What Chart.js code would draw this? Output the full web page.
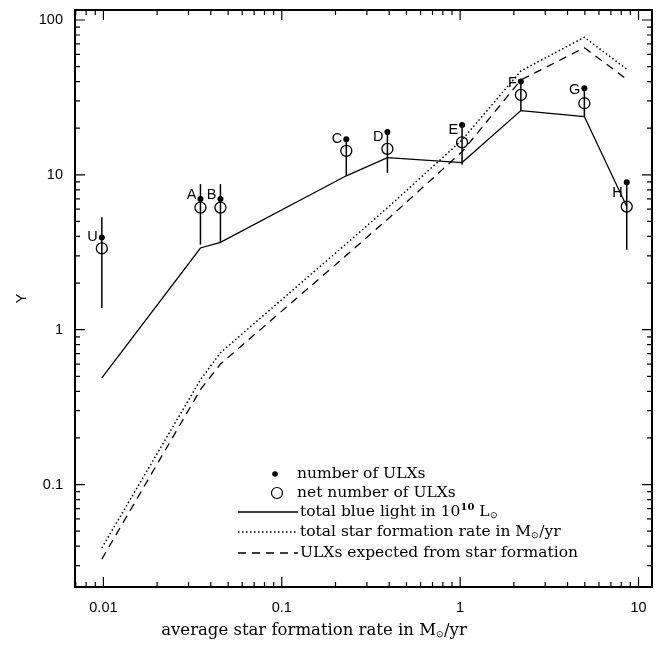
<!DOCTYPE html>
<html lang="en">
<head>
  <meta charset="UTF-8" />
  <title>ULXs vs star formation rate</title>
  <script src="https://cdn.jsdelivr.net/npm/chart.js"></script>
  <style>
    * { margin: 0; padding: 0; box-sizing: border-box; }
    body { background: #fff; width: 667px; height: 646px; overflow: hidden; }
    canvas { display: block; }
  </style>
</head>
<body>
  <canvas id="ulxChart" width="667" height="646"></canvas>

  <script>
    // galaxy groups and their average star formation rate (x)
    const galaxies = ['U', 'A', 'B', 'C', 'D', 'E', 'F', 'G', 'H'];
    const avgSfr = [0.0098, 0.035, 0.0453, 0.230, 0.391, 1.025, 2.19, 4.97, 8.59];

    // points
    const nUlx = [3.94, 6.97, 6.97, 17.0, 18.9, 21.0, 40.0, 36.2, 8.97];
    const netUlx = [3.35, 6.15, 6.15, 14.3, 14.7, 16.2, 32.8, 29.0, 6.24];
    const errHigh = [5.33, 8.71, 8.71, 17.0, 18.9, 21.0, 40.0, 36.2, 8.97];
    const errLow = [1.38, 3.54, 3.66, 9.86, 10.3, 11.6, 26.0, 23.8, 3.28];

    // lines
    const blueLight = [0.488, 3.37, 3.66, 9.86, 12.9, 12.0, 26.0, 23.8, 6.24];
    const totalSfr = [0.039, 0.475, 0.71, 3.59, 6.12, 16.8, 46.9, 77.3, 48.1];
    const expectedUlx = [0.033, 0.41, 0.60, 3.02, 5.15, 14.1, 41.0, 66.2, 41.4];

    // ticks
    const xTickVals = [0.01, 0.1, 1, 10];
    const xTickLabels = ['0.01', '0.1', '1', '10'];
    const yTickVals = [0.1, 1, 10, 100];
    const yTickLabels = ['0.1', '1', '10', '100'];

    // letter label nudges (px), styling only
    const letterDy = { U: 0, A: -4, B: -4, C: 0, D: 5, E: 5, F: 1, G: 2, H: 11 };

    const pts = (ys) => avgSfr.map((x, i) => ({ x, y: ys[i] }));
    const SANS = '"Liberation Sans", Arial, sans-serif';
    const SERIF = '"DejaVu Serif", serif';

    function partFont(kind, base) {
      if (kind === 'sup') return 'bold 10px ' + SERIF;
      if (kind === 'sub') return '9px ' + SANS;
      return base;
    }

    function drawParts(ctx, parts, x, y, base) {
      let cx = x;
      parts.forEach(([t, kind]) => {
        ctx.font = partFont(kind, base);
        const dy = kind === 'sup' ? -5 : kind === 'sub' ? 4 : 0;
        ctx.fillText(t, cx, y + dy);
        cx += ctx.measureText(t).width;
      });
      ctx.font = base;
      return cx - x;
    }

    function partsWidth(ctx, parts, base) {
      let w = 0;
      parts.forEach(([t, kind]) => { ctx.font = partFont(kind, base); w += ctx.measureText(t).width; });
      ctx.font = base;
      return w;
    }

    const decor = {
      id: 'decor',
      beforeDatasetsDraw(chart) {
        const { ctx, scales: { x, y } } = chart;
        ctx.save();
        ctx.strokeStyle = '#000';
        ctx.lineWidth = 1.5;
        avgSfr.forEach((v, i) => {
          const px = x.getPixelForValue(v);
          ctx.beginPath();
          ctx.moveTo(px, y.getPixelForValue(errHigh[i]));
          ctx.lineTo(px, y.getPixelForValue(errLow[i]));
          ctx.stroke();
        });
        ctx.restore();
      },
      afterDraw(chart) {
        const { ctx, chartArea: a, scales: { x, y } } = chart;
        ctx.save();
        ctx.strokeStyle = '#000';
        ctx.fillStyle = '#000';

        // frame
        ctx.lineWidth = 2;
        ctx.strokeRect(a.left, a.top, a.right - a.left, a.bottom - a.top);

        // inward ticks on all four sides
        ctx.lineWidth = 1.2;
        for (let e = -3; e <= 2; e++) {
          for (let k = 1; k <= 9; k++) {
            const v = k * Math.pow(10, e);
            const len = k === 1 ? 10 : 5;
            if (v >= x.min && v <= x.max) {
              const px = x.getPixelForValue(v);
              ctx.beginPath();
              ctx.moveTo(px, a.bottom); ctx.lineTo(px, a.bottom - len);
              ctx.moveTo(px, a.top); ctx.lineTo(px, a.top + len);
              ctx.stroke();
            }
            if (v >= y.min && v <= y.max) {
              const py = y.getPixelForValue(v);
              ctx.beginPath();
              ctx.moveTo(a.left, py); ctx.lineTo(a.left + len, py);
              ctx.moveTo(a.right, py); ctx.lineTo(a.right - len, py);
              ctx.stroke();
            }
          }
        }

        // galaxy letters
        ctx.font = '14.5px ' + SANS;
        ctx.textAlign = 'right';
        ctx.textBaseline = 'middle';
        galaxies.forEach((g, i) => {
          ctx.fillText(g, x.getPixelForValue(avgSfr[i]) - 4, y.getPixelForValue(nUlx[i]) + letterDy[g]);
        });

        // axis titles
        ctx.textAlign = 'left';
        const xBase = '16.5px ' + SERIF;
        const xt = [['average star formation rate in M', ''], ['⊙', 'sub'], ['/yr', '']];
        const w = partsWidth(ctx, xt, xBase);
        drawParts(ctx, xt, 314 - w / 2, 631, xBase);

        ctx.save();
        ctx.translate(22, (a.top + a.bottom) / 2);
        ctx.rotate(-Math.PI / 2);
        ctx.textAlign = 'center';
        ctx.font = '14.5px ' + SANS;
        ctx.fillText('Y', 0, 0);
        ctx.restore();

        // legend
        const lx0 = 238, lx1 = 298, tx = 300;
        const rows = [474, 493, 512, 532, 553];
        const lBase = '15.5px ' + SERIF;
        ctx.font = lBase;
        ctx.textAlign = 'left';
        ctx.textBaseline = 'middle';

        ctx.beginPath(); ctx.arc(275, rows[0], 2.8, 0, Math.PI * 2); ctx.fill();
        ctx.fillText('number of ULXs', tx - 3, rows[0]);

        ctx.lineWidth = 1.2;
        ctx.beginPath(); ctx.arc(277, rows[1], 5.5, 0, Math.PI * 2); ctx.stroke();
        ctx.fillText('net number of ULXs', tx - 3, rows[1]);

        ctx.lineWidth = 1.3;
        ctx.beginPath(); ctx.moveTo(lx0, rows[2]); ctx.lineTo(lx1, rows[2]); ctx.stroke();
        drawParts(ctx, [['total blue light in 10', ''], ['10', 'sup'], [' L', ''], ['⊙', 'sub']], tx, rows[2], lBase);

        ctx.setLineDash([1.5, 2.5]);
        ctx.lineWidth = 1.5;
        ctx.beginPath(); ctx.moveTo(lx0, rows[3]); ctx.lineTo(lx1, rows[3]); ctx.stroke();
        drawParts(ctx, [['total star formation rate in M', ''], ['⊙', 'sub'], ['/yr', '']], tx, rows[3], lBase);

        ctx.setLineDash([8, 6]);
        ctx.lineWidth = 1.3;
        ctx.beginPath(); ctx.moveTo(lx0, rows[4]); ctx.lineTo(lx1, rows[4]); ctx.stroke();
        ctx.setLineDash([]);
        ctx.fillText('ULXs expected from star formation', tx, rows[4]);

        ctx.restore();
      }
    };

    new Chart(document.getElementById('ulxChart'), {
      type: 'line',
      data: {
        datasets: [
          { label: 'total blue light', data: pts(blueLight), borderColor: '#000', borderWidth: 1.3, pointRadius: 0, fill: false },
          { label: 'total star formation rate', data: pts(totalSfr), borderColor: '#000', borderWidth: 1.5, borderDash: [1.5, 2.5], pointRadius: 0, fill: false },
          { label: 'ULXs expected', data: pts(expectedUlx), borderColor: '#000', borderWidth: 1.3, borderDash: [8, 6], pointRadius: 0, fill: false },
          { label: 'number of ULXs', data: pts(nUlx), showLine: false, pointRadius: 3, pointBackgroundColor: '#000', pointBorderColor: '#000', pointBorderWidth: 0 },
          { label: 'net number of ULXs', data: pts(netUlx), showLine: false, pointRadius: 5.5, pointBackgroundColor: 'rgba(0,0,0,0)', pointBorderColor: '#000', pointBorderWidth: 1.3 }
        ]
      },
      options: {
        responsive: false,
        animation: false,
        devicePixelRatio: 1,
        layout: { padding: { top: 10, right: 15, left: 0, bottom: 0 } },
        plugins: { legend: { display: false }, tooltip: { enabled: false } },
        scales: {
          x: {
            type: 'logarithmic',
            min: 0.00693, max: 11.9,
            afterBuildTicks: (s) => { s.ticks = xTickVals.map(v => ({ value: v })); },
            afterFit: (s) => { s.height = 59; s.paddingLeft = 0; s.paddingRight = 0; },
            grid: { display: false, drawTicks: false },
            border: { display: false },
            ticks: {
              autoSkip: false, maxRotation: 0, padding: 12, color: '#000',
              font: { family: SANS, size: 14.5 },
              callback: (v, i) => xTickLabels[i]
            }
          },
          y: {
            type: 'logarithmic',
            min: 0.0218, max: 116,
            afterBuildTicks: (s) => { s.ticks = yTickVals.map(v => ({ value: v })); },
            afterFit: (s) => { s.width = 75; s.paddingTop = 0; s.paddingBottom = 0; },
            grid: { display: false, drawTicks: false },
            border: { display: false },
            ticks: {
              autoSkip: false, padding: 12, color: '#000',
              font: { family: SANS, size: 14.5 },
              callback: (v, i) => yTickLabels[i]
            }
          }
        }
      },
      plugins: [decor]
    });
  </script>
</body>
</html>
